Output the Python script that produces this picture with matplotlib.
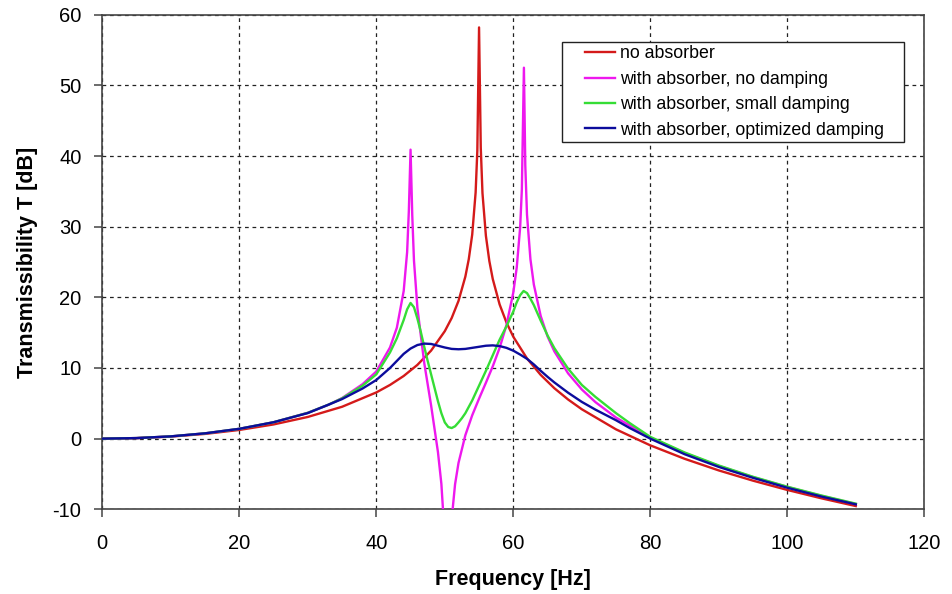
import matplotlib
matplotlib.use("Agg")
import matplotlib.pyplot as plt
from matplotlib.patches import Rectangle

plt.rcParams['font.family'] = ['Liberation Sans', 'DejaVu Sans']
plt.rcParams['axes.unicode_minus'] = False

# ---- data ----
red_x = [0, 5, 10, 15, 20, 25, 30, 35, 40, 42, 44, 46, 48, 50, 51, 52, 53, 53.5, 54,
         54.5, 54.75, 55, 55.25, 55.5, 56, 56.5, 57, 58, 59, 60, 62, 64, 66, 68, 70,
         75, 80, 85, 90, 95, 100, 105, 110]
red_y = [0, 0.07, 0.29, 0.67, 1.23, 2.01, 3.07, 4.51, 6.54, 7.60, 8.87, 10.44, 12.46,
         15.21, 17.06, 19.49, 22.93, 25.4, 28.87, 34.85, 40.8, 58.2, 41.2, 34.75, 28.7,
         25.15, 22.6, 19.0, 16.44, 14.42, 11.35, 9.02, 7.13, 5.54, 4.16, 1.31, -0.95,
         -2.85, -4.50, -5.95, -7.26, -8.45, -9.54]

mag_x = [0, 5, 10, 15, 20, 25, 30, 33, 35, 38, 40, 42, 43, 44, 44.5, 44.75, 45, 45.25,
         45.5, 46, 47, 48, 49, 49.5, 50, 50.2, 50.4, 50.6, 50.75, 51, 51.5, 52, 53, 54,
         55, 56, 57, 58, 59, 60, 60.5, 61, 61.25, 61.55, 61.75, 62, 62.5, 63, 64, 65,
         66, 68, 70, 72, 75, 80, 85, 90, 95, 100, 105, 110]
mag_y = [0, 0.08, 0.32, 0.75, 1.39, 2.32, 3.66, 4.78, 5.74, 7.71, 9.5, 12.9, 15.7, 20.9,
         26.4, 32.2, 40.9, 31.6, 25.2, 18.5, 10.7, 4.7, -1.9, -6.4, -14.1, -22, -40, -22,
         -15.9, -11.4, -6.45, -3.44, 0.49, 3.30, 5.66, 7.91, 10.23, 12.84, 16.07, 20.68,
         24.2, 29.9, 35.3, 52.5, 38.7, 31.7, 25.4, 21.8, 17.35, 14.47, 12.34, 9.24, 6.96,
         5.16, 2.98, 0.17, -2.03, -3.86, -5.45, -6.84, -8.10, -9.25]

grn_x = [0, 5, 10, 15, 20, 25, 30, 33, 35, 38, 40, 42, 43, 44, 44.5, 45, 45.5, 46, 46.5,
         47, 47.5, 48, 48.5, 49, 49.5, 50, 50.5, 51, 51.5, 52, 52.5, 53, 54, 55, 56, 57,
         58, 59, 60, 60.5, 61, 61.5, 62, 62.5, 63, 64, 65, 66, 68, 70, 72, 75, 77, 80,
         85, 90, 95, 100, 105, 110]
grn_y = [0, 0.08, 0.32, 0.75, 1.39, 2.32, 3.65, 4.8, 5.7, 7.5, 9.1, 12.2, 14.2, 16.8,
         18.3, 19.2, 18.6, 17.0, 15.1, 13.0, 11.0, 9.1, 7.2, 5.3, 3.6, 2.3, 1.65, 1.5,
         1.75, 2.3, 2.9, 3.6, 5.4, 7.5, 9.6, 11.8, 14.0, 15.9, 18.0, 19.3, 20.3, 20.9,
         20.6, 19.8, 18.9, 16.7, 14.6, 12.8, 9.9, 7.6, 5.9, 3.6, 2.2, 0.25, -1.95, -3.8,
         -5.4, -6.8, -8.05, -9.2]

blu_x = [0, 5, 10, 15, 20, 25, 30, 33, 35, 38, 40, 42, 43, 44, 45, 46, 47, 48, 49, 50,
         51, 52, 53, 54, 55, 56, 57, 58, 59, 60, 61, 62, 63, 64, 65, 66, 68, 70, 72, 75,
         77, 80, 85, 90, 95, 100, 105, 110]
blu_y = [0, 0.08, 0.32, 0.75, 1.39, 2.32, 3.62, 4.8, 5.6, 7.1, 8.3, 10.0, 11.0, 12.0,
         12.75, 13.25, 13.45, 13.4, 13.15, 12.9, 12.7, 12.65, 12.7, 12.85, 13.0, 13.15,
         13.2, 13.1, 12.85, 12.45, 11.9, 11.3, 10.5, 9.6, 8.75, 7.95, 6.5, 5.2, 4.1, 2.6,
         1.5, 0.0, -2.2, -4.0, -5.55, -6.95, -8.2, -9.3]

labels = ["no absorber", "with absorber, no damping",
          "with absorber, small damping", "with absorber, optimized damping"]
x_ticks = [0, 20, 40, 60, 80, 100, 120]
y_ticks = [-10, 0, 10, 20, 30, 40, 50, 60]

# ---- figure ----
W, H = 953, 594
fig = plt.figure(figsize=(W / 100, H / 100), dpi=100)
ax = fig.add_axes([102.3 / W, 1 - 509.3 / H, (924.3 - 102.3) / W, (509.3 - 14.7) / H])

lw = 1.7
ax.plot(red_x, red_y, color='#D41A1A', lw=lw, label=labels[0], zorder=3)
ax.plot(mag_x, mag_y, color='#EE18EE', lw=lw, label=labels[1], zorder=3)
ax.plot(grn_x, grn_y, color='#35DD35', lw=lw, label=labels[2], zorder=3)
ax.plot(blu_x, blu_y, color='#0C0C9C', lw=lw, label=labels[3], zorder=3)

ax.set_xlim(0, 120)
ax.set_ylim(-10, 60)
ax.set_xticks(x_ticks)
ax.set_yticks(y_ticks)
ax.grid(True, linestyle=(0, (3, 3)), color='#222222', linewidth=0.9, zorder=1)
ax.set_axisbelow(True)

for s in ax.spines.values():
    s.set_color('#444444')
    s.set_linewidth(1.2)

ax.tick_params(axis='both', direction='out', length=6, width=1.1, color='#444444',
               labelsize=14.5, labelcolor='black')
ax.tick_params(axis='x', pad=12)
ax.tick_params(axis='y', pad=9)

ax.set_xlabel("Frequency [Hz]", fontsize=15.5, fontweight='bold', va='center')
ax.xaxis.set_label_coords(0.5, (509.3 - 579) / 494.6)
ax.set_ylabel("Transmissibility T [dB]", fontsize=15.5, fontweight='bold', va='center')
ax.yaxis.set_label_coords((28 - 102.3) / 822, 0.5)

# legend frame (white box) and legend entries
frame = Rectangle((562 / W, 1 - 142 / H), (904 - 562) / W, 100 / H,
                  transform=fig.transFigure, facecolor='white', edgecolor='#222222',
                  lw=1.0, zorder=4, clip_on=False)
ax.add_patch(frame)
fs = 12.8
fs_px = fs * 100 / 72
leg = ax.legend(loc='upper left', bbox_to_anchor=(585 / W, 1 - 45.5 / H),
                bbox_transform=fig.transFigure, frameon=False, fontsize=fs,
                borderpad=0, borderaxespad=0, handlelength=30 / fs_px,
                handletextpad=5 / fs_px, labelspacing=0.47)
leg.set_zorder(5)

fig.savefig("out.png", dpi=100)
